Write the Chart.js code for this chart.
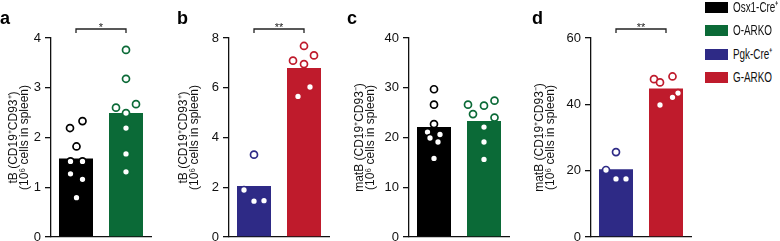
<!DOCTYPE html>
<html>
<head>
<meta charset="utf-8">
<script src="https://cdn.jsdelivr.net/npm/chart.js@4.4.1/dist/chart.umd.min.js"></script>
<style>
    html, body { margin: 0; padding: 0; background: #fff; overflow: hidden; }
    body { width: 780px; height: 241px; position: relative; font-family: "Liberation Sans", Arial, Helvetica, sans-serif; }
    .panel { position: absolute; top: 0; height: 250px; }
    .letter { position: absolute; top: 8px; font-size: 18px; font-weight: bold; color: #000; line-height: 20px; }
    .legendRow { position: absolute; left: 705px; height: 11px; white-space: nowrap; }
    .legendBox { position: absolute; left: 0; top: 0; width: 23px; height: 11px; }
    .legendText { position: absolute; left: 28px; top: -3px; font-size: 15px; line-height: 16px; color: #111;
                  transform: scaleX(0.66); transform-origin: left center; }
</style>
</head>
<body>
<div class="panel" id="panelA" style="left:6px;width:157px"><canvas id="chartA"></canvas></div>
<div class="panel" id="panelB" style="left:176px;width:165px"><canvas id="chartB"></canvas></div>
<div class="panel" id="panelC" style="left:352px;width:169px"><canvas id="chartC"></canvas></div>
<div class="panel" id="panelD" style="left:532px;width:171px"><canvas id="chartD"></canvas></div>
<div class="letter" style="left:0px">a</div>
<div class="letter" style="left:177px">b</div>
<div class="letter" style="left:347px">c</div>
<div class="letter" style="left:532px">d</div>
<div id="legend"></div>
<script>
const fontFamily = "'Liberation Sans', Arial, Helvetica, sans-serif";

const groupNames = ["Osx1-Cre\u207A", "O-ARKO", "Pgk-Cre\u207A", "G-ARKO"];
const groupColors = ["#000000", "#0b6a37", "#2e2a86", "#bf1b2c"];

const tbTitle = ["tB (CD19\u207ACD93\u207A)", "(10\u2076 cells in spleen)"];
const matbTitle = ["matB (CD19\u207ACD93\u207B)", "(10\u2076 cells in spleen)"];

// a: tB, Osx1-Cre+ vs O-ARKO
const aMeans = [1.58, 2.49];
const aOsxPoints = [2.19, 2.33, 1.82, 1.52, 1.52, 1.27, 1.16, 0.79];
const aOsxJitter = [-0.12, 0.13, 0.01, -0.11, 0.13, -0.11, 0.13, 0.01];
const aOarkoPoints = [3.76, 3.18, 2.60, 2.67, 2.49, 2.19, 1.67, 1.31];
const aOarkoJitter = [0, 0, -0.2, 0.2, 0, 0, 0, 0];
const aTicks = [0, 1, 2, 3, 4];

// b: tB, Pgk-Cre+ vs G-ARKO
const bMeans = [2.05, 6.79];
const bPgkPoints = [3.31, 1.89, 1.44, 1.46];
const bPgkJitter = [0, -0.2, 0, 0.2];
const bGarkoPoints = [7.68, 7.09, 7.30, 6.95, 6.03, 5.65];
const bGarkoJitter = [0, -0.22, 0.2, 0, 0.12, -0.12];
const bTicks = [0, 2, 4, 6, 8];

// c: matB, Osx1-Cre+ vs O-ARKO
const cMeans = [22.1, 23.3];
const cOsxPoints = [29.7, 26.6, 22.7, 21.1, 20.6, 19.9, 19.1, 15.8];
const cOsxJitter = [0, 0, 0, -0.13, 0.12, -0.08, 0.08, 0];
const cOarkoPoints = [26.6, 26.4, 27.4, 24.7, 24.0, 22.1, 19.1, 15.6];
const cOarkoJitter = [-0.32, 0, 0.21, -0.22, 0.21, 0, 0, 0];
const cTicks = [0, 10, 20, 30, 40];

// d: matB, Pgk-Cre+ vs G-ARKO
const dMeans = [20.4, 44.8];
const dPgkPoints = [25.6, 20.2, 17.5, 17.5];
const dPgkJitter = [0, -0.2, 0, 0.2];
const dGarkoPoints = [48.4, 47.6, 46.6, 43.4, 42.1, 39.8];
const dGarkoJitter = [0.13, -0.24, -0.12, 0.24, 0.13, -0.12];
const dTicks = [0, 20, 40, 60];

const sigBracket = {
    id: "sigBracket",
    afterDatasetsDraw(chart, args, pluginOpts) {
        if (!pluginOpts.text) return;
        const { ctx, chartArea } = chart;
        const xScale = chart.scales.x;
        const x0 = xScale.getPixelForValue(0);
        const x1 = xScale.getPixelForValue(1);
        const yLine = chartArea.top - 9;
        ctx.save();
        ctx.strokeStyle = "#222";
        ctx.lineWidth = 1.3;
        ctx.beginPath();
        ctx.moveTo(x0, yLine + 4);
        ctx.lineTo(x0, yLine);
        ctx.lineTo(x1, yLine);
        ctx.lineTo(x1, yLine + 4);
        ctx.stroke();
        ctx.fillStyle = "#222";
        ctx.font = "11px " + fontFamily;
        ctx.textAlign = "center";
        ctx.textBaseline = "alphabetic";
        ctx.fillText(pluginOpts.text, (x0 + x1) / 2, yLine + 1.5);
        ctx.restore();
    }
};

function CreatePanelChart(chartID, panel) {
    let canvasID = document.getElementById(chartID);
    const plotWidth = 100;
    const panelWidth = canvasID.parentNode.clientWidth;

    // dots: white fill, group colour ring (merges into the bar where it sits inside)
    const pointSets = panel.points.map((pts, i) => ({
        type: "scatter",
        data: pts.map((v, j) => ({ x: i + panel.jitter[i][j], y: v })),
        xAxisID: "xp",
        yAxisID: "y",
        pointRadius: 3.5,
        pointBorderWidth: 1.7,
        pointBorderColor: panel.colors[i],
        pointBackgroundColor: "#ffffff",
        borderColor: panel.colors[i],
        backgroundColor: "#ffffff",
        order: 1
    }));

    const PanelChart = new Chart(canvasID, {
        type: "bar",
        data: {
            labels: panel.labels,
            datasets: [{
                data: panel.means,
                backgroundColor: panel.colors,
                borderColor: "transparent",
                grouped: false,
                barPercentage: 0.68,
                categoryPercentage: 1,
                xAxisID: "x",
                yAxisID: "y",
                order: 2
            }, ...pointSets]
        },
        options: {
            animation: false,
            responsive: true,
            maintainAspectRatio: false,
            layout: {
                padding: { top: 38, right: panelWidth - panel.axisWidth - plotWidth, bottom: 12, left: 0 }
            },
            plugins: {
                legend: { display: false },
                tooltip: { enabled: false },
                sigBracket: { text: panel.sig }
            },
            scales: {
                x: {
                    type: "category",
                    offset: true,
                    grid: { display: false },
                    ticks: { display: false },
                    border: { display: true, color: "#111", width: 1.3 },
                    afterFit: function (scale) { scale.height = 1; }
                },
                xp: {
                    type: "linear",
                    display: false,
                    offset: false,
                    min: -0.5,
                    max: 1.5
                },
                y: {
                    min: panel.ticks[0],
                    max: panel.ticks[panel.ticks.length - 1],
                    afterBuildTicks: function (scale) {
                        scale.ticks = panel.ticks.map(v => ({ value: v }));
                    },
                    grid: { display: true, drawOnChartArea: false, drawTicks: true, tickLength: 6, color: "#111", lineWidth: 1.3 },
                    border: { display: true, color: "#111", width: 1.3 },
                    ticks: {
                        padding: 4,
                        color: "#111",
                        font: { family: fontFamily, size: 13 }
                    },
                    title: {
                        display: true,
                        text: panel.title,
                        color: "#111",
                        font: { family: fontFamily, size: 12, lineHeight: 0.85 },
                        padding: { top: 3, bottom: 0 }
                    },
                    afterFit: function (scale) { scale.width = panel.axisWidth; }
                }
            }
        },
        plugins: [sigBracket]
    });
    return PanelChart;
}

function CreateLegend() {
    const legendDiv = document.getElementById("legend");
    groupNames.forEach((name, i) => {
        const row = document.createElement("div");
        row.className = "legendRow";
        row.style.top = (1.5 + i * 23.6) + "px";
        const box = document.createElement("span");
        box.className = "legendBox";
        box.style.background = groupColors[i];
        const txt = document.createElement("span");
        txt.className = "legendText";
        txt.textContent = name;
        row.appendChild(box);
        row.appendChild(txt);
        legendDiv.appendChild(row);
    });
}

CreatePanelChart("chartA", {
    labels: [groupNames[0], groupNames[1]], means: aMeans,
    points: [aOsxPoints, aOarkoPoints], jitter: [aOsxJitter, aOarkoJitter],
    colors: [groupColors[0], groupColors[1]], ticks: aTicks, title: tbTitle, sig: "*", axisWidth: 45
});
CreatePanelChart("chartB", {
    labels: [groupNames[2], groupNames[3]], means: bMeans,
    points: [bPgkPoints, bGarkoPoints], jitter: [bPgkJitter, bGarkoJitter],
    colors: [groupColors[2], groupColors[3]], ticks: bTicks, title: tbTitle, sig: "**", axisWidth: 53
});
CreatePanelChart("chartC", {
    labels: [groupNames[0], groupNames[1]], means: cMeans,
    points: [cOsxPoints, cOarkoPoints], jitter: [cOsxJitter, cOarkoJitter],
    colors: [groupColors[0], groupColors[1]], ticks: cTicks, title: matbTitle, sig: "", axisWidth: 57
});
CreatePanelChart("chartD", {
    labels: [groupNames[2], groupNames[3]], means: dMeans,
    points: [dPgkPoints, dGarkoPoints], jitter: [dPgkJitter, dGarkoJitter],
    colors: [groupColors[2], groupColors[3]], ticks: dTicks, title: matbTitle, sig: "**", axisWidth: 59
});
CreateLegend();
</script>
</body>
</html>
